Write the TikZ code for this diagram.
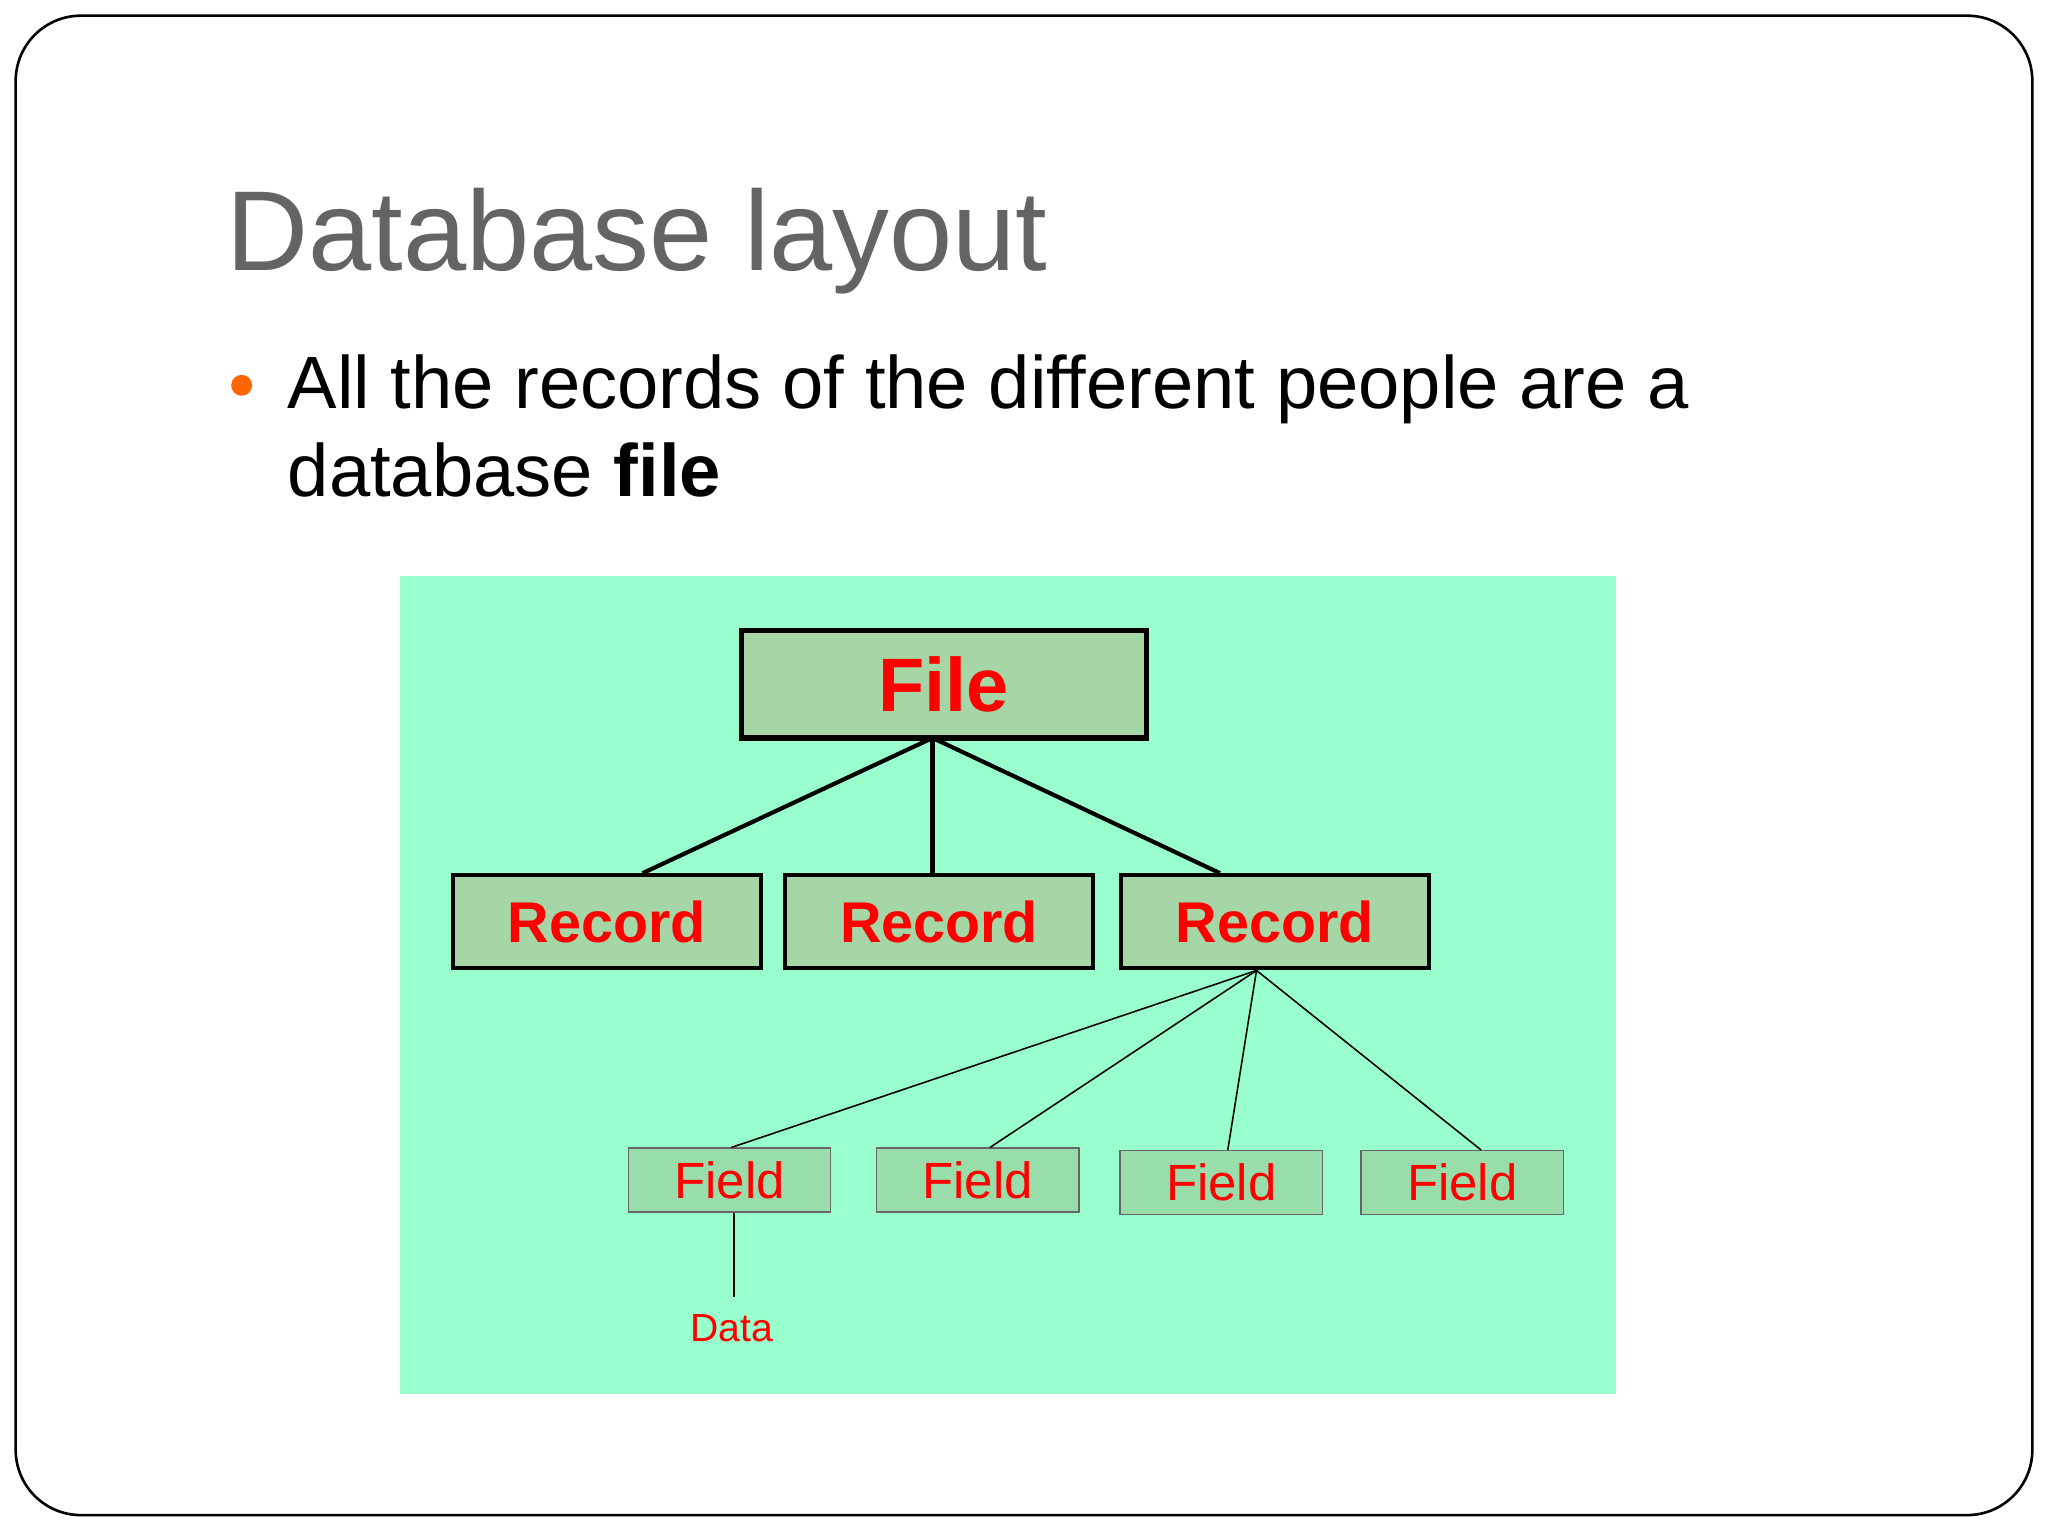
\documentclass[tikz,border=0pt]{standalone}
\usepackage{fontspec}
\setmainfont{Liberation Sans}
\begin{document}
\begin{tikzpicture}[x=0.5pt,y=-0.5pt,
  rec/.style={draw=black,line width=1.5pt,fill=recfill,text=red,font=\fontsize{22}{26}\selectfont\bfseries,minimum width=118pt,minimum height=35.5pt,inner sep=0pt},
  fld/.style={draw=black!60,line width=0.5pt,fill=fldfill,text=red,font=\fontsize{19.5}{24}\selectfont,minimum width=77.5pt,minimum height=24.5pt,inner sep=0pt},
  thk/.style={line width=1.6pt},
  thn/.style={line width=0.6pt}]
\definecolor{recfill}{HTML}{A6D6A6}
\definecolor{fldfill}{HTML}{99DDAA}
\definecolor{bg}{HTML}{99FFCC}
\definecolor{title}{HTML}{646464}
\useasboundingbox (0,0) rectangle (1568,1176);
\fill[white] (0,0) rectangle (1568,1176);
\draw[line width=1pt,rounded corners=25pt] (12,12) rectangle (1556,1160);
\node[anchor=base west,text=title,font=\fontsize{43.5}{50}\selectfont,inner sep=0pt] (title) at (173,207) {Database layout};
\fill[orange!80!red] (185,295) circle (4pt);
\node[anchor=base west,font=\fontsize{28.4}{34}\selectfont,inner sep=0pt] (l1) at (220,313) {All the records of the different people are a};
\node[anchor=base west,font=\fontsize{28.4}{34}\selectfont,inner sep=0pt] (l2) at (220,380) {database \textbf{file}};
\fill[bg] (306,441) rectangle (1237,1067);
\node[draw=black,line width=2pt,fill=recfill,text=red,font=\fontsize{29}{34}\selectfont\bfseries,minimum width=155pt,minimum height=41pt,inner sep=0pt] (file) at (722.5,524) {File};
\node[rec] (r1) at (464.5,705.5) {Record};
\node[rec] (r2) at (719,705.5) {Record};
\node[rec] (r3) at (976,705.5) {Record};
\node[fld] (f1) at (558.5,903.5) {Field};
\node[fld] (f2) at (748.5,903.5) {Field};
\node[fld] (f3) at (935,905.5) {Field};
\node[fld] (f4) at (1119.5,905.5) {Field};
\node[text=red,font=\fontsize{15}{18}\selectfont,inner sep=1pt] (data) at (560,1017) {Data};
\coordinate (fs) at (714,565);
\draw[thk] (fs) -- (r1.north -| 492,0);
\draw[thk] (fs) -- (r2.north -| 714,0);
\draw[thk] (fs) -- (r3.north -| 934,0);
\coordinate (rs) at (962,743);
\draw[thn] (rs) -- (f1.north -| 560,0);
\draw[thn] (rs) -- (f2.north -| 758,0);
\draw[thn] (rs) -- (f3.north -| 940,0);
\draw[thn] (rs) -- (f4.north -| 1134,0);
\draw[thn] (f1.south -| 562,0) -- (562,993);
\end{tikzpicture}
\end{document}
